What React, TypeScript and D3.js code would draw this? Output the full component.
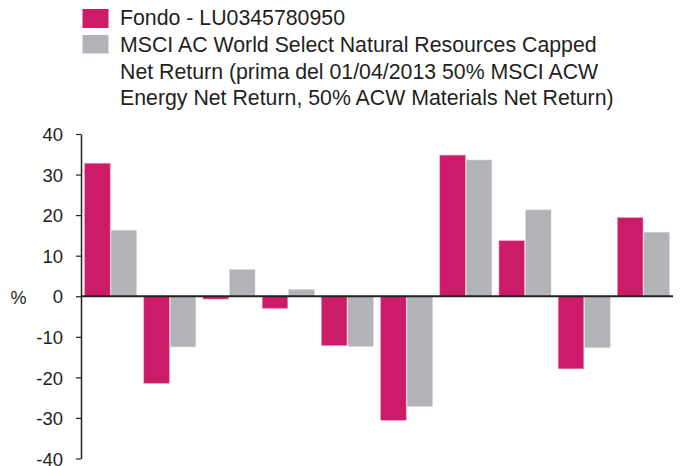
import { useEffect, useRef } from "react";
import * as d3 from "d3";

const groups = ["1", "2", "3", "4", "5", "6", "7", "8", "9", "10"];
const fondo = [32.8, -21.5, -0.7, -3.0, -12.2, -30.6, 34.8, 13.7, -17.9, 19.4];
const benchmark = [16.3, -12.5, 6.6, 1.7, -12.4, -27.2, 33.6, 21.3, -12.7, 15.8];
const yTicks = [-40, -30, -20, -10, 0, 10, 20, 30, 40];
const legendFondo = ["Fondo - LU0345780950"];
const legendBench = [
  "MSCI AC World Select Natural Resources Capped",
  "Net Return (prima del 01/04/2013 50% MSCI ACW",
  "Energy Net Return, 50% ACW Materials Net Return)",
];

const PINK = "#cc1c69";
const GREY = "#b2b3b6";

export default function App() {
  const ref = useRef<HTMLDivElement | null>(null);
  const width = 685;
  const height = 466;

  useEffect(() => {
    if (!ref.current) return;
    document.body.style.margin = "0";
    d3.select(ref.current).selectAll("svg").remove();

    const svg = d3
      .select(ref.current)
      .append("svg")
      .attr("width", width)
      .attr("height", height)
      .style("display", "block")
      .style("font-family", "'Liberation Sans', Arial, sans-serif");

    const left = 81;
    const right = 673;
    const y = d3.scaleLinear([-40, 40], [458.5, 134]);
    const x0 = d3.scaleBand(groups, [left, right]).paddingInner(0.12).paddingOuter(0.06);
    const x1 = d3.scaleBand(["f", "b"], [0, x0.bandwidth()]).paddingInner(0.03);

    // y axis
    const yAxis = svg
      .append("g")
      .attr("transform", `translate(${left},0)`)
      .call(
        d3
          .axisLeft(y)
          .tickValues(yTicks)
          .tickFormat((d) => String(d))
          .tickSize(5)
          .tickSizeOuter(0)
          .tickPadding(13)
      );
    yAxis.select(".domain").attr("stroke", "#222").attr("stroke-width", 1.5);
    yAxis.selectAll("line").attr("stroke", "#222").attr("stroke-width", 1.2);
    yAxis
      .selectAll("text")
      .attr("font-size", "18.5px")
      .attr("fill", "#231f20")
      .attr("dy", "0.36em")
      .attr("font-family", "'Liberation Sans', Arial, sans-serif");

    svg
      .append("text")
      .text("%")
      .attr("x", 10.5)
      .attr("y", y(0) + 8)
      .attr("font-size", "18px")
      .attr("fill", "#231f20");

    const rows = groups.map((g, i) => ({ g, f: fondo[i], b: benchmark[i] }));
    const gg = svg
      .append("g")
      .selectAll("g")
      .data(rows)
      .join("g")
      .attr("transform", (d) => `translate(${x0(d.g)},0)`);

    gg.append("rect")
      .attr("x", x1("f") ?? 0)
      .attr("width", x1.bandwidth())
      .attr("y", (d) => y(Math.max(0, d.f)))
      .attr("height", (d) => Math.abs(y(d.f) - y(0)))
      .attr("fill", PINK)
      .attr("stroke", "#f0a8c4")
      .attr("stroke-width", 0.6);

    gg.append("rect")
      .attr("x", x1("b") ?? 0)
      .attr("width", x1.bandwidth())
      .attr("y", (d) => y(Math.max(0, d.b)))
      .attr("height", (d) => Math.abs(y(d.b) - y(0)))
      .attr("fill", GREY)
      .attr("stroke", "#dcdcde")
      .attr("stroke-width", 0.6);

    // zero line
    svg
      .append("line")
      .attr("x1", left)
      .attr("x2", right)
      .attr("y1", y(0))
      .attr("y2", y(0))
      .attr("stroke", "#222")
      .attr("stroke-width", 2);

    // legend
    const legend = svg.append("g");
    legend.append("rect").attr("x", 82.5).attr("y", 9).attr("width", 26).attr("height", 19).attr("fill", PINK);
    legend.append("rect").attr("x", 82.5).attr("y", 35).attr("width", 26).attr("height", 18.5).attr("fill", GREY);
    const lineH = 26.3;
    legend
      .selectAll("text.f")
      .data(legendFondo)
      .join("text")
      .attr("class", "f")
      .attr("x", 120)
      .attr("y", (_, i) => 25 + i * lineH)
      .attr("font-size", "21.3px")
      .attr("fill", "#231f20")
      .text((d) => d);
    legend
      .selectAll("text.b")
      .data(legendBench)
      .join("text")
      .attr("class", "b")
      .attr("x", 120)
      .attr("y", (_, i) => 52.3 + i * lineH)
      .attr("font-size", "21.3px")
      .attr("fill", "#231f20")
      .text((d) => d);
  }, []);

  return <div ref={ref}></div>;
}
